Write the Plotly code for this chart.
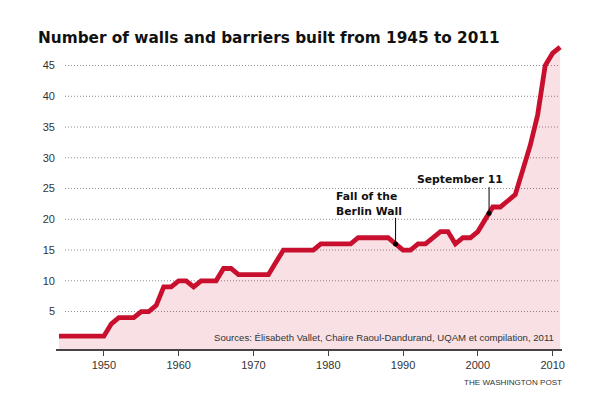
import numpy as np
import plotly.graph_objects as go

# ---- data ----
years = list(range(1944, 2012))
walls = [1, 1, 1, 1, 1, 1, 1,            # 1944-1950
         3, 4, 4, 4, 5, 5, 6, 9, 9,      # 1951-1959
         10, 10, 9, 10, 10, 10, 12, 12, 11, 11,   # 1960-1969
         11, 11, 11, 13, 15, 15, 15, 15, 15, 16,  # 1970-1979
         16, 16, 16, 16, 17, 17, 17, 17, 17, 16,  # 1980-1989
         15, 15, 16, 16, 17, 18, 18, 16, 17, 17,  # 1990-1999
         18, 20, 22, 22, 23, 24, 28, 32, 37, 45,  # 2000-2009
         47, 48]                                   # 2010-2011

x_ticks = [1950, 1960, 1970, 1980, 1990, 2000, 2010]
y_ticks = [5, 10, 15, 20, 25, 30, 35, 40, 45]

event_names = ["Fall of the", "Berlin Wall", "September 11"]
event_years = [1989.0, 2001.5]

title_text = "Number of walls and barriers built from 1945 to 2011"
source_text = "Sources: Élisabeth Vallet, Chaire Raoul-Dandurand, UQAM et compilation, 2011"
credit_text = "THE WASHINGTON POST"

# ---- layout constants ----
W, H = 600, 393
L, R, T, B = 56, 38, 40, 44
x_range = [1943.6, 2011.25]
y_range = [-1.09, 49.15]
RED = "#c8102e"
FILL = "rgba(200,16,46,0.13)"
TXT = "#333333"
FONT = "Liberation Sans, Arial, sans-serif"
HEAVY = "DejaVu Sans, sans-serif"

pw = W - L - R
ph = H - T - B


def px_x(px):
    return (px - L) / pw


def px_y(py):
    return (H - B - py) / ph


event_vals = list(np.interp(event_years, years, walls))

fig = go.Figure()

# baseline for area fill (bottom of plot)
fig.add_trace(go.Scatter(x=years, y=[y_range[0]] * len(years), mode="lines",
                         line=dict(width=0), hoverinfo="skip", showlegend=False))
fig.add_trace(go.Scatter(x=years, y=walls, mode="lines", fill="tonexty",
                         fillcolor=FILL,
                         line=dict(color=RED, width=4.8), showlegend=False))
fig.add_trace(go.Scatter(x=event_years, y=event_vals, mode="markers",
                         marker=dict(color="black", size=5), showlegend=False))

shapes = []
for v in y_ticks:
    shapes.append(dict(type="line", xref="paper", yref="y",
                       x0=px_x(65), x1=px_x(560), y0=v, y1=v,
                       line=dict(color="#8c8c8c", width=1, dash="1px,2px"),
                       layer="below"))
for ex, ev in zip(event_years, event_vals):
    shapes.append(dict(type="line", xref="x", yref="y", ysizemode="pixel",
                       yanchor=ev, x0=ex, x1=ex, y0=0, y1=26,
                       line=dict(color="black", width=1)))

annotations = [
    dict(text=source_text, xref="paper", yref="paper", x=px_x(556), y=px_y(337.5),
         xanchor="right", yanchor="middle", showarrow=False,
         font=dict(family=FONT, size=9.6, color=TXT)),
    dict(text=credit_text, xref="paper", yref="paper", x=px_x(564), y=px_y(382.5),
         xanchor="right", yanchor="middle", showarrow=False,
         font=dict(family=FONT, size=8.1, color=TXT)),
    dict(text="<b>" + event_names[0] + "</b>", xref="paper", yref="paper",
         x=px_x(334), y=px_y(196.7), xanchor="left", yanchor="middle",
         showarrow=False, font=dict(family=HEAVY, size=10.8, color="#111")),
    dict(text="<b>" + event_names[1] + "</b>", xref="paper", yref="paper",
         x=px_x(334), y=px_y(211), xanchor="left", yanchor="middle",
         showarrow=False, font=dict(family=HEAVY, size=10.8, color="#111")),
    dict(text="<b>" + event_names[2] + "</b>", xref="paper", yref="paper",
         x=px_x(415), y=px_y(179), xanchor="left", yanchor="middle",
         showarrow=False, font=dict(family=HEAVY, size=10.8, color="#111")),
]

fig.update_layout(
    width=W, height=H,
    margin=dict(l=L, r=R, t=T, b=B),
    paper_bgcolor="white", plot_bgcolor="white",
    title=dict(text="<b>" + title_text + "</b>", x=38 / W, xanchor="left",
               y=1 - 38 / H, yanchor="middle",
               font=dict(family=HEAVY, size=15.3, color="#111")),
    xaxis=dict(range=x_range, tickvals=x_ticks, showgrid=False, zeroline=False,
               showline=True, linecolor="#444", linewidth=1.5,
               ticks="outside", ticklen=5, tickcolor="#444", tickwidth=1,
               tickfont=dict(family=FONT, size=11, color=TXT)),
    yaxis=dict(range=y_range, tickvals=y_ticks, showgrid=False, zeroline=False,
               showline=False, ticks="",
               tickfont=dict(family=FONT, size=11, color=TXT)),
    shapes=shapes, annotations=annotations,
)

fig.write_html("out.html", config={"displayModeBar": False},
               post_script="document.body.style.margin='0px';")
